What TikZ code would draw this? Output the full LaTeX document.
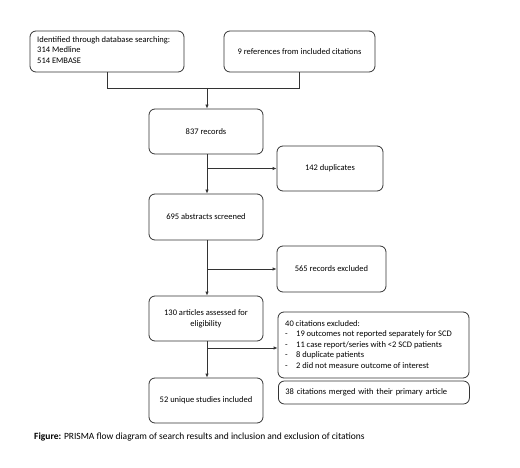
\documentclass[tikz,border=0pt]{standalone}
\usepackage{fontspec}
\setmainfont{Carlito}
\usetikzlibrary{arrows.meta}
\begin{document}
\begin{tikzpicture}[x=1pt,y=-1pt,
  every node/.style={font=\fontsize{8.5}{10.6}\selectfont},
  box/.style={draw=black!80, line width=0.8pt, rounded corners=6pt, inner sep=0pt, align=center},
  conn/.style={draw=black!80, line width=0.8pt},
  arr/.style={conn, -{Latex[length=4pt,width=3.5pt]}},
  lbl/.style={inner sep=0pt, align=left, anchor=north west}
]
\useasboundingbox (0,0) rectangle (520,468);
\node[box, minimum width=154pt, minimum height=41pt] (b1) at (107,51.5) {};
\node[lbl, anchor=west] (b1t) at (37,50) {Identified through database searching:\\314 Medline\\514 EMBASE};
\node[box, minimum width=151pt, minimum height=41pt] (b2) at (299.5,51.5) {9 references from included citations};
\node[box, minimum width=114pt, minimum height=45pt] (rec) at (206,131.5) {837 records};
\node[box, minimum width=106pt, minimum height=45pt] (dup) at (330,168.5) {142 duplicates};
\node[box, minimum width=114pt, minimum height=46pt] (abs) at (206,217) {695 abstracts screened};
\node[box, minimum width=109pt, minimum height=46pt] (exc) at (331.5,269) {565 records excluded};
\node[box, minimum width=114pt, minimum height=45pt] (art) at (206,318.5) {130 articles assessed for\\eligibility};
\node[box, minimum width=191pt, minimum height=66pt] (cit) at (373.5,345) {};
\node[lbl] (citt) at (285,320) {40 citations excluded:\\
\makebox[11pt][l]{-}19 outcomes not reported separately for SCD\\
\makebox[11pt][l]{-}11 case report/series with <2 SCD patients\\
\makebox[11pt][l]{-}8 duplicate patients\\
\makebox[11pt][l]{-}2 did not measure outcome of interest};
\node[box, minimum width=114pt, minimum height=45pt] (stud) at (206,400.5) {52 unique studies included};
\node[box, minimum width=191pt, minimum height=23pt, anchor=west, text width=185pt, align=left] (mrg) at (278,392.5) {\hspace*{4pt}38 citations merged with their primary article};
\node[inner sep=0pt, anchor=west, font=\fontsize{9.5}{11}\selectfont] (cap) at (34,437) {\textbf{Figure:} PRISMA flow diagram of search results and inclusion and exclusion of citations};
\coordinate (j) at (207,88);
\coordinate (j2) at (207,348);
\draw[conn] (b1.south) -- (b1.south |- j) -- (b2.south |- j) -- (b2.south);
\draw[arr] (j) -- (j |- rec.north);
\draw[arr] (j |- rec.south) -- (j |- abs.north);
\draw[arr] (j |- dup.west) -- (dup.west);
\draw[arr] (j |- abs.south) -- (j |- art.north);
\draw[arr] (j |- exc.west) -- (exc.west);
\draw[arr] (j |- art.south) -- (j |- stud.north);
\draw[arr] (j2) -- (j2 -| cit.west);
\end{tikzpicture}
\end{document}
